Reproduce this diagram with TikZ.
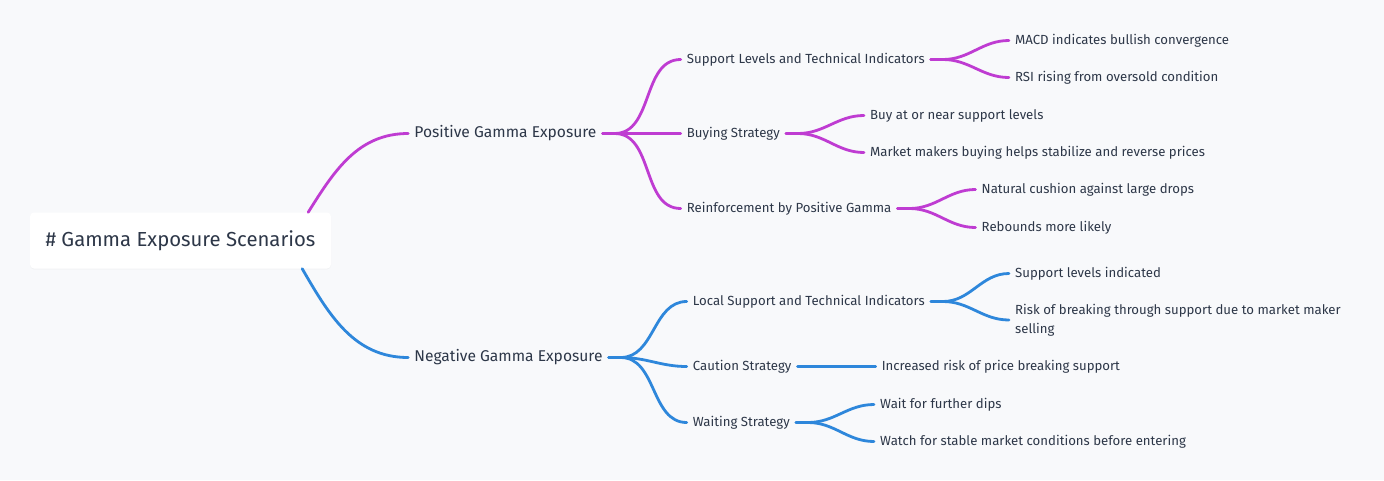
\documentclass[tikz,border=0pt]{standalone}
\usepackage{fontspec}
\setmainfont{Fira Sans}
\usepackage{xcolor}
\usepackage{tikz}
\usetikzlibrary{positioning, shadows}
\definecolor{mag}{HTML}{BF3CD2}
\definecolor{blu}{HTML}{2E87DB}
\definecolor{ink}{HTML}{2D3748}
\definecolor{paper}{HTML}{F8F9FB}

\begin{document}
\begin{tikzpicture}[
    x=1pt, y=1pt,
    rootbox/.style={rectangle, rounded corners=4pt, fill=white, minimum width=301pt, minimum height=56pt, text=ink, font=\fontsize{20.3}{24}\selectfont, drop shadow={opacity=0.05, shadow xshift=0pt, shadow yshift=-1pt}},
    topic/.style={inner xsep=6pt, inner ysep=2pt, text=ink, font=\fontsize{15.6}{18}\selectfont},
    leaf/.style={inner xsep=6pt, inner ysep=2pt, text=ink, align=left, font=\fontsize{13.2}{19}\selectfont},
    pline/.style={mag, line width=2.8pt, line cap=round},
    nline/.style={blu, line width=2.8pt, line cap=round}
  ]

    \useasboundingbox[fill=paper] (0,0) rectangle (1384,-480);

    \node[rootbox] (root) at (180.5,-240.5) {\# Gamma Exposure Scenarios};

    % positive side
    \node[topic, right=77pt of root, yshift=107pt] (pos) {Positive Gamma Exposure};
    \node[leaf, right=78pt of pos, yshift=74pt] (sli) {Support Levels and Technical Indicators};
    \node[leaf, right=78pt of pos] (buy) {Buying Strategy};
    \node[leaf, right=78pt of pos, yshift=-75pt] (rein) {Reinforcement by Positive Gamma};
    \node[leaf, right=78pt of sli, yshift=19pt] (macd) {MACD indicates bullish convergence};
    \node[leaf, right=78pt of sli, yshift=-18pt] (rsi) {RSI rising from oversold condition};
    \node[leaf, right=78pt of buy, yshift=18pt] (buyat) {Buy at or near support levels};
    \node[leaf, right=78pt of buy, yshift=-19pt] (mm) {Market makers buying helps stabilize and reverse prices};
    \node[leaf, right=78pt of rein, yshift=19pt] (cush) {Natural cushion against large drops};
    \node[leaf, right=78pt of rein, yshift=-19pt] (reb) {Rebounds more likely};

    % negative side
    \node[topic, right=77pt of root, yshift=-117pt] (neg) {Negative Gamma Exposure};
    \node[leaf, right=78pt of neg, yshift=56pt] (lsti) {Local Support and Technical Indicators};
    \node[leaf, right=78pt of neg, yshift=-9pt] (caut) {Caution Strategy};
    \node[leaf, right=78pt of neg, yshift=-65pt] (wait) {Waiting Strategy};
    \node[leaf, right=78pt of lsti, yshift=28pt] (spi) {Support levels indicated};
    \node[leaf, right=78pt of lsti, yshift=-18.5pt] (risk) {Risk of breaking through support due to market maker\\selling};
    \node[leaf, right=78pt of caut] (incr) {Increased risk of price breaking support};
    \node[leaf, right=78pt of wait, yshift=18pt] (dips) {Wait for further dips};
    \node[leaf, right=78pt of wait, yshift=-19pt] (watch) {Watch for stable market conditions before entering};

    \draw[pline] ([xshift=-23pt]root.north east) to[out=58, in=180] (pos.west);
    \draw[nline] ([xshift=-29pt]root.south east) to[out=-60, in=180] (neg.west);

    \draw[pline] (pos.east) -- ++(12,0) to[out=0, in=180] (sli.west);
    \draw[pline] (pos.east) -- (buy.west);
    \draw[pline] (pos.east) -- ++(12,0) to[out=0, in=180] (rein.west);
    \draw[pline] (sli.east) -- ++(12,0) to[out=0, in=180] (macd.west);
    \draw[pline] (sli.east) -- ++(12,0) to[out=0, in=180] (rsi.west);
    \draw[pline] (buy.east) -- ++(12,0) to[out=0, in=180] (buyat.west);
    \draw[pline] (buy.east) -- ++(12,0) to[out=0, in=180] (mm.west);
    \draw[pline] (rein.east) -- ++(12,0) to[out=0, in=180] (cush.west);
    \draw[pline] (rein.east) -- ++(12,0) to[out=0, in=180] (reb.west);

    \draw[nline] (neg.east) -- ++(12,0) to[out=0, in=180] (lsti.west);
    \draw[nline] (neg.east) -- ++(12,0) to[out=0, in=180] (caut.west);
    \draw[nline] (neg.east) -- ++(12,0) to[out=0, in=180] (wait.west);
    \draw[nline] (lsti.east) -- ++(12,0) to[out=0, in=180] (spi.west);
    \draw[nline] (lsti.east) -- ++(12,0) to[out=0, in=180] (risk.west);
    \draw[nline] (caut.east) -- (incr.west);
    \draw[nline] (wait.east) -- ++(12,0) to[out=0, in=180] (dips.west);
    \draw[nline] (wait.east) -- ++(12,0) to[out=0, in=180] (watch.west);

  \end{tikzpicture}
\end{document}
